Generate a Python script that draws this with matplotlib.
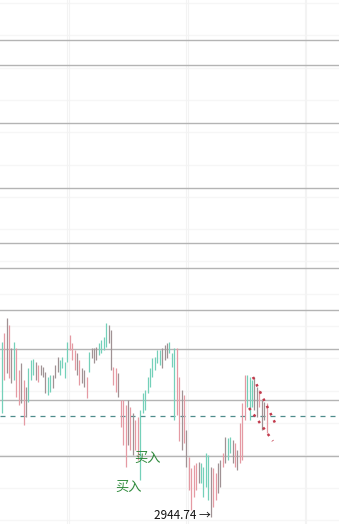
import matplotlib
matplotlib.use('Agg')
import matplotlib.pyplot as plt
import numpy as np

plt.rcParams['font.family'] = ['Noto Sans CJK SC', 'DejaVu Sans']

# ── K 线数据（高 / 低 / 涨跌色：u 涨, d 跌, g 平） ──
highs = [
    3032.2, 3036.7, 3044.2, 3040.7, 3029.2, 3032.2, 3029.2, 3018.2, 3021.7, 3013.2,
    3009.7, 3019.2, 3023.2, 3023.7, 3022.2, 3020.7, 3020.7, 3019.7, 3017.2, 3014.7,
    3015.7, 3015.7, 3020.7, 3024.7, 3023.2, 3024.7, 3022.2, 3032.2, 3035.7, 3031.7,
    3028.2, 3026.7, 3023.2, 3019.2, 3018.2, 3014.7, 3027.2, 3029.2, 3029.2, 3029.7,
    3031.7, 3033.2, 3034.7, 3041.7, 3040.7, 3038.2, 3019.7, 3019.2, 3016.7, 3003.2,
    3003.2, 3000.7, 3003.2, 2999.7, 2996.7, 2993.2, 2994.7, 2998.2, 3006.7, 3008.2,
    3014.7, 3019.2, 3024.2, 3024.7, 3028.2, 3028.2, 3029.2, 3030.7, 3031.7, 3032.2,
    3026.7, 3029.2, 3029.2, 3014.7, 3008.2, 3005.7, 2988.2, 2974.7, 2969.2, 2970.7,
    2971.7, 2972.2, 2971.7, 2969.7, 2976.7, 2975.7, 2969.7, 2969.2, 2966.7, 2971.7,
    2973.2, 2976.7, 2984.7, 2984.2, 2984.7, 2983.2, 2981.7, 2978.2, 2991.7, 3001.7,
    3015.7, 3015.7, 3014.7, 3013.2, 3014.7, 3009.7, 3008.2, 3003.2, 3002.2, 3001.7,
]
lows = [
    2996.7, 3013.2, 3016.7, 3014.2, 3011.7, 3013.2, 3004.7, 3000.7, 3001.7, 2990.7,
    2994.7, 3002.2, 3013.2, 3015.7, 3013.2, 3012.2, 3015.7, 3014.7, 3006.7, 3005.7,
    3007.2, 3009.2, 3014.2, 3017.2, 3015.7, 3019.2, 3014.2, 3022.2, 3028.2, 3023.2,
    3018.2, 3015.7, 3010.7, 3011.7, 3009.7, 3004.2, 3017.2, 3024.2, 3021.7, 3023.2,
    3025.7, 3026.7, 3028.2, 3029.7, 3031.7, 3018.2, 3010.7, 3007.2, 3004.7, 2989.7,
    2980.7, 2969.7, 2980.7, 2978.2, 2975.7, 2978.2, 2973.2, 2963.2, 2996.7, 2998.2,
    3006.7, 3009.7, 3014.7, 3018.2, 3021.7, 3020.7, 3019.2, 3023.2, 3024.2, 3026.7,
    3019.7, 2993.2, 2995.7, 2982.7, 2978.2, 2981.7, 2969.7, 2958.2, 2948.2, 2954.7,
    2958.2, 2961.7, 2961.7, 2954.7, 2959.7, 2953.2, 2944.74, 2949.7, 2953.2, 2956.7,
    2959.7, 2969.7, 2971.7, 2973.2, 2976.7, 2971.7, 2969.7, 2968.2, 2971.7, 2973.2,
    2993.2, 2999.7, 2993.2, 2999.7, 2998.2, 2994.7, 2999.7, 2988.2, 2993.2, 2986.7,
]
trend = list('udgdguddgdguuugdggguuggguuuudddgdggduggguuuuggddgdddgdgdduuuuuuuuuggguuudd'
             'gdgddddguuuugddggdguugdgdddu')
trend = (trend + ['u', 'u', 'g', 'g', 'd', 'g', 'g', 'd', 'g', 'd'])[:len(highs)]

# 水平参考线
levels = [3183.2, 3170.7, 3141.7, 3109.2, 3081.7, 3069.2, 3048.2, 3028.7, 3003.2, 2975.2]
dash_level = 2995.2
low_price = 2944.74

# 下跌通道（红色点线）
chan_x = [[103.4, 112.5], [101.8, 111.6]]
chan_y = [[3014.7, 2991.7], [2999.2, 2982.7]]

COL = {'u': '#74d0b9', 'd': '#e59aa3', 'g': '#a09294'}

fig = plt.figure(figsize=(3.39, 5.24), dpi=100)
ax = fig.add_axes([0, 0, 1, 1])
ax.set_xlim(-0.7, 138.8)
ax.set_ylim(2941.2, 3203.2)
ax.axis('off')

# 淡网格
for gy in np.arange(3201.7, 2941.0, -16.15):
    ax.axhline(gy, color='#f6f6f6', lw=1, zorder=0)
for gx in [26.9, 27.6, 75.8, 76.5, 124.7, 125.4]:
    ax.axvline(gx, color='#f3f3f3', lw=0.8, zorder=0)

for lv in levels:
    ax.axhline(lv, color='#b4b4b4', lw=1, zorder=1)
ax.axhline(dash_level, color='#4e8c8c', lw=0.9, ls=(0, (4, 4)), zorder=1)

xs = np.arange(len(highs))
cols = [COL[t] for t in trend]
ax.vlines(xs, lows, highs, colors=cols, lw=0.9, zorder=3)

for cx, cy in zip(chan_x, chan_y):
    ax.plot(cx, cy, color='#c23a4c', lw=1.8, ls=(0, (1, 2.2)), zorder=4)

ax.text(54.5, 2974.0, '买入', color='#2f8a3c', fontsize=9.5, ha='left', va='center', zorder=5)
ax.text(46.8, 2959.5, '买入', color='#2f8a3c', fontsize=9.5, ha='left', va='center', zorder=5)
ax.text(62.8, 2945.5, f'{low_price:.2f} →', color='#111111', fontsize=8.5,
        ha='left', va='center', zorder=5)

fig.savefig('out.png', dpi=100, facecolor='white')
